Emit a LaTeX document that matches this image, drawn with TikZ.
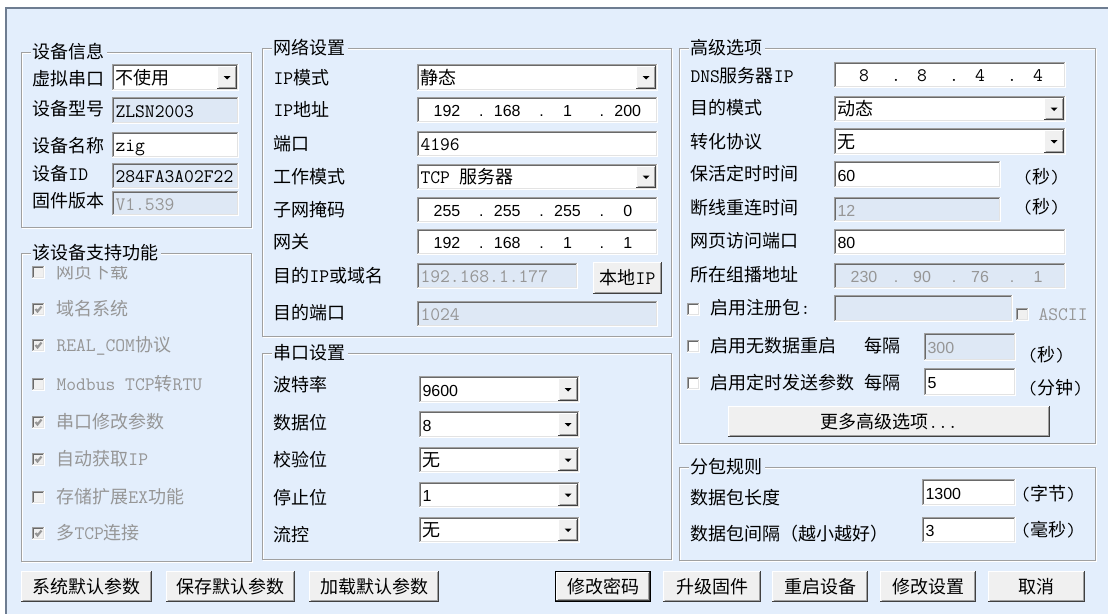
\documentclass[tikz,border=0pt]{standalone}
\usepackage{fontspec}
\newfontfamily\cjkfam{Noto Sans CJK SC}
\newfontfamily\sansfam{Liberation Sans}
\newcommand\cj{\cjkfam\fontsize{13.5pt}{16pt}\selectfont}
\newcommand\mo{\ttfamily\fontsize{14.3pt}{16pt}\selectfont}
\newcommand\sa{\sansfam\fontsize{12pt}{14pt}\selectfont}
\definecolor{winbg}{RGB}{227,238,252}
\definecolor{robg}{RGB}{222,232,245}
\definecolor{btnbg}{RGB}{240,240,240}
\definecolor{eg1}{RGB}{160,160,160}
\definecolor{eg2}{RGB}{105,105,105}
\definecolor{eg3}{RGB}{227,227,227}
\definecolor{eg4}{RGB}{64,64,64}
\definecolor{dis}{RGB}{150,150,150}
\definecolor{winframe}{RGB}{110,125,145}
\tikzset{
  lbl/.style={anchor=west, inner sep=0pt, text height=11.9pt, text depth=1.6pt, font=\cj},
  ctr/.style={lbl, anchor=center},
  rw fill/.style={fill=white}, ro fill/.style={fill=robg}, rwm fill/.style={fill=white},
  rw text/.style={text=black, font=\sa}, ro text/.style={text=dis, font=\sa}, rwm text/.style={text=black, font=\mo},
}
% sunken box: fill, x1, y1, x2, y2
\newcommand\sunk[5]{%
  \fill[#1] (#2,#3) rectangle (#4,#5);
  \draw[eg1] (#2+0.5,#5) -- (#2+0.5,#3+0.5) -- (#4,#3+0.5);
  \draw[eg2] (#2+1.5,#5-1) -- (#2+1.5,#3+1.5) -- (#4-1,#3+1.5);
  \draw[eg3] (#2+1,#5-1.5) -- (#4-1.5,#5-1.5) -- (#4-1.5,#3+1);
  \draw[white] (#2,#5-0.5) -- (#4-0.5,#5-0.5) -- (#4-0.5,#3);
}
% raised box
\newcommand\rbox[4]{%
  \fill[btnbg] (#1,#2) rectangle (#3,#4);
  \draw[white] (#1+0.5,#4-1) -- (#1+0.5,#2+0.5) -- (#3-1,#2+0.5);
  \draw[eg1] (#1+1.5,#4-1.5) -- (#3-1.5,#4-1.5) -- (#3-1.5,#2+1);
  \draw[eg4] (#1,#4-0.5) -- (#3-0.5,#4-0.5) -- (#3-0.5,#2);
}
\newcommand\btn[5]{\rbox{#1}{#2}{#3}{#4}\node[ctr] at ({(#1+#3)/2},{(#2+#4)/2}) {#5};}
\newcommand\combo[5]{%
  \sunk{white}{#1}{#2}{#3}{#4}
  \rbox{#3-22}{#2+2}{#3-2}{#4-2}
  \fill ({#3-12-3.5},{(#2+#4)/2-1.5}) -- ({#3-12+3.5},{(#2+#4)/2-1.5}) -- ({#3-12},{(#2+#4)/2+2}) -- cycle;
  \node[lbl] at (#1+3,{(#2+#4)/2}) {#5};
}
\newcommand\fld[6]{%
  \sunk{#1}{#2}{#3}{#4}{#5}
  \node[lbl] at (#2+3,{(#3+#5)/2}) {#6};
}
\newcommand\ipf[9]{%
  \sunk{#1 fill}{#2}{#3}{#4}{#5}
  \foreach \s/\i in {#6/0,#7/1,#8/2,#9/3} {\node[ctr,#1 text] at ({#2+30+(#4-#2)/4*\i},{(#3+#5)/2}) {\s};}
  \foreach \i in {1,2,3} {\node[ctr,#1 text] at ({#2+(#4-#2)/4*\i+4},{(#3+#5)/2}) {.};}
}
\newcommand\cbx[3]{\sunk{#3}{#1}{#2-6}{#1+13}{#2+7}}
\newcommand\tck[2]{\draw[dis, line width=1.6pt] (#1+3.5,#2) -- (#1+5.5,#2+2.5) -- (#1+9.5,#2-2.5);}
\newcommand\grp[5]{%
  \draw[white] (#1+1.5,#2+1.5) rectangle (#3+0.5,#4+0.5);
  \draw[eg1] (#1+0.5,#2+0.5) rectangle (#3-0.5,#4-0.5);
  \node[lbl, fill=winbg, inner xsep=1.5pt] at (#1+9,#2) {#5};
}
\begin{document}
\begin{tikzpicture}[x=0.75pt,y=-0.75pt,line width=0.75pt]
\useasboundingbox (0,0) rectangle (1108,614);
\fill[white] (0,0) rectangle (1108,614);
\fill[winbg] (6,8) rectangle (1108,614);
\draw[winframe, line width=1.5pt] (6,614) -- (6,8) -- (1108,8);

% ---- 设备信息
\grp{21}{52}{252}{228}{设备信息}
\node[lbl] (l1) at (32,79) {虚拟串口};
\combo{112}{64}{239}{91}{不使用}
\node[lbl] (l2) at (32,109) {设备型号};
\fld{robg}{112}{97}{239}{124}{\mo ZLSN2003}
\node[lbl] (l3) at (32,146) {设备名称};
\fld{white}{112}{132}{239}{158}{\mo zig}
\node[lbl] (l4) at (32,174) {设备{\mo ID}};
\fld{robg}{112}{163}{239}{189}{\mo 284FA3A02F22}
\node[lbl] (l5) at (32,201) {固件版本};
\fld{robg}{112}{191}{239}{216}{\color{dis}\mo V1.539}

% ---- 该设备支持功能
\grp{21}{253}{252}{562}{该设备支持功能}
\begin{scope}
\clip (21,266) rectangle (253,300);
\cbx{32}{272}{btnbg}
\node[lbl,text=dis] (f1) at (56,272) {网页下载};
\end{scope}
\cbx{32}{309}{btnbg}\tck{32}{309}
\node[lbl,text=dis] (f2) at (56,309) {域名系统};
\cbx{32}{345}{btnbg}\tck{32}{345}
\node[lbl,text=dis] (f3) at (56,345) {{\mo REAL\_COM}协议};
\cbx{32}{384}{btnbg}
\node[lbl,text=dis] (f4) at (56,384) {{\mo Modbus TCP}转{\mo RTU}};
\cbx{32}{422}{btnbg}\tck{32}{422}
\node[lbl,text=dis] (f5) at (56,422) {串口修改参数};
\cbx{32}{459}{btnbg}\tck{32}{459}
\node[lbl,text=dis] (f6) at (56,459) {自动获取{\mo IP}};
\cbx{32}{497}{btnbg}
\node[lbl,text=dis] (f7) at (56,497) {存储扩展{\mo EX}功能};
\cbx{32}{533}{btnbg}\tck{32}{533}
\node[lbl,text=dis] (f8) at (56,533) {多{\mo TCP}连接};

% ---- 网络设置
\grp{262}{48}{672}{337}{网络设置}
\node[lbl] (n1) at (273,78) {{\mo IP}模式};
\combo{417}{64}{658}{91}{静态}
\node[lbl] (n2) at (273,110) {{\mo IP}地址};
\ipf{rw}{417}{97}{658}{123}{192}{168}{1}{200}
\node[lbl] (n3) at (273,144) {端口};
\fld{white}{417}{131}{658}{157}{\mo 4196}
\node[lbl] (n4) at (273,177) {工作模式};
\combo{417}{164}{658}{190}{{\mo TCP }服务器}
\node[lbl] (n5) at (273,210) {子网掩码};
\ipf{rw}{417}{197}{658}{223}{255}{255}{255}{0}
\node[lbl] (n6) at (273,242) {网关};
\ipf{rw}{417}{229}{658}{255}{192}{168}{1}{1}
\node[lbl] (n7) at (273,276) {目的{\mo IP}或域名};
\fld{robg}{417}{263}{578}{289}{\color{dis}\mo 192.168.1.177}
\btn{593}{262}{662}{294}{本地{\mo IP}}
\node[lbl] (n8) at (273,313) {目的端口};
\fld{robg}{417}{301}{658}{327}{\color{dis}\mo 1024}

% ---- 串口设置
\grp{262}{353}{672}{560}{串口设置}
\node[lbl] (s1) at (273,385) {波特率};
\combo{419}{376}{580}{403}{\sa 9600}
\node[lbl] (s2) at (273,423) {数据位};
\combo{419}{411}{580}{438}{\sa 8}
\node[lbl] (s3) at (273,460) {校验位};
\combo{419}{447}{580}{473}{无}
\node[lbl] (s4) at (273,498) {停止位};
\combo{419}{482}{580}{508}{\sa 1}
\node[lbl] (s5) at (273,535) {流控};
\combo{419}{517}{580}{543}{无}

% ---- 高级选项
\grp{679}{48}{1096}{444}{高级选项}
\node[lbl] (a1) at (690,76) {{\mo DNS}服务器{\mo IP}};
\ipf{rwm}{834}{62}{1066}{88}{8}{8}{4}{4}
\node[lbl] (a2) at (690,108) {目的模式};
\combo{834}{96}{1066}{122}{动态}
\node[lbl] (a3) at (690,142) {转化协议};
\combo{834}{128}{1066}{155}{无}
\node[lbl] (a4) at (690,174) {保活定时时间};
\fld{white}{834}{161}{1001}{188}{\sa 60}
\node[lbl] (a4u) at (1022,177) {{\mo(}秒{\mo)}};
\node[lbl] (a5) at (690,208) {断线重连时间};
\fld{robg}{834}{197}{1001}{222}{\color{dis}\sa 12}
\node[lbl] (a5u) at (1022,207) {{\mo(}秒{\mo)}};
\node[lbl] (a6) at (690,241) {网页访问端口};
\fld{white}{834}{229}{1066}{255}{\sa 80}
\node[lbl] (a7) at (690,275) {所在组播地址};
\ipf{ro}{834}{263}{1066}{289}{230}{90}{76}{1}
\cbx{687}{309}{white}
\node[lbl] (a8) at (710,308) {启用注册包{\mo :}};
\sunk{robg}{834}{295}{1013}{322}
\cbx{1016}{314}{btnbg}
\node[lbl,text=dis] (a8b) at (1038,314) {\mo ASCII};
\cbx{687}{346}{white}
\node[lbl] (a9) at (710,346) {启用无数据重启};
\node[lbl] (a9b) at (864,346) {每隔};
\fld{robg}{924}{333}{1016}{361}{\color{dis}\sa 300}
\node[lbl] (a9u) at (1027,355) {{\mo(}秒{\mo)}};
\cbx{687}{383}{white}
\node[lbl] (a10) at (710,383) {启用定时发送参数};
\node[lbl] (a10b) at (864,383) {每隔};
\fld{white}{924}{368}{1016}{396}{\sa 5}
\node[lbl] (a10u) at (1027,388) {{\mo(}分钟{\mo)}};
\btn{728}{406}{1050}{437}{更多高级选项{\mo ...}}

% ---- 分包规则
\grp{679}{467}{1096}{561}{分包规则}
\node[lbl] (p1) at (690,498) {数据包长度};
\fld{white}{922}{479}{1016}{506}{\sa 1300}
\node[lbl] (p1u) at (1020,494) {{\mo(}字节{\mo)}};
\node[lbl] (p2) at (690,534) {数据包间隔（越小越好）};
\fld{white}{922}{517}{1016}{543}{\sa 3}
\node[lbl] (p2u) at (1020,530) {{\mo(}毫秒{\mo)}};

% ---- bottom buttons
\btn{21}{571}{152}{602}{系统默认参数}
\btn{166}{571}{295}{602}{保存默认参数}
\btn{309}{571}{439}{602}{加载默认参数}
\draw[black] (555.5,571.5) rectangle (650.5,601.5);
\btn{556}{572}{650}{601}{修改密码}
\btn{663}{571}{761}{602}{升级固件}
\btn{772}{571}{868}{602}{重启设备}
\btn{880}{571}{976}{602}{修改设置}
\btn{988}{571}{1085}{602}{取消}
\end{tikzpicture}
\end{document}
